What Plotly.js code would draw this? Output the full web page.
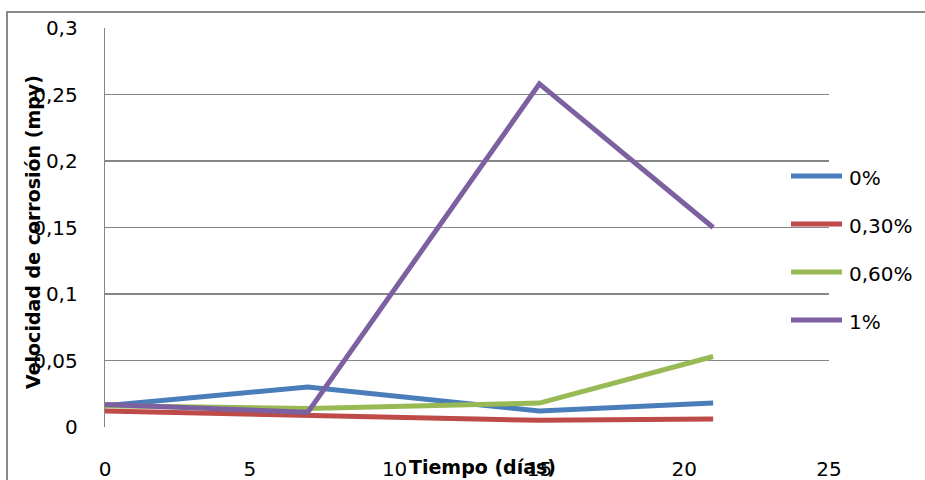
<!DOCTYPE html>
<html>
<head>
<meta charset="utf-8">
<script src="https://cdn.plot.ly/plotly-3.0.1.min.js"></script>
<style>
  html, body { margin: 0; padding: 0; background: #ffffff; overflow: hidden; }
  #wrap { position: relative; width: 925px; height: 480px; overflow: hidden; }
  #chart { position: absolute; left: 0; top: 0; width: 925px; height: 480px; }
  /* chart frame: only the top and left edges fall inside the page */
  #frame {
    position: absolute; left: 6px; top: 11px; width: 940px; height: 480px;
    border-top: 2px solid #8a8a8a; border-left: 2px solid #8a8a8a;
    pointer-events: none; box-sizing: border-box;
  }
</style>
</head>
<body>
<div id="wrap">
  <div id="chart"></div>
  <div id="frame"></div>
</div>
<script>
// Tiempo de exposición (días)
const dias = [0, 7, 15, 21];

// Velocidad de corrosión (mpy) por concentración de inhibidor
const serie0 = [0.016, 0.030, 0.012, 0.018];
const serie030 = [0.012, 0.009, 0.005, 0.006];
const serie060 = [0.016, 0.014, 0.018, 0.053];
const serie1 = [0.017, 0.011, 0.258, 0.150];

const nombresSeries = ['0%', '0,30%', '0,60%', '1%'];
const coloresSeries = ['#4A7EBB', '#BE4B48', '#98B954', '#7D60A0'];

const xTicks = [0, 5, 10, 15, 20, 25];
const xTickText = ['0', '5', '10', '15', '20', '25'];
const yTicks = [0, 0.05, 0.1, 0.15, 0.2, 0.25, 0.3];
const yTickText = ['0', '0,05', '0,1', '0,15', '0,2', '0,25', '0,3'];

const tituloX = 'Tiempo (días)';
const tituloY = 'Velocidad de corrosión (mpy)';

const valores = [serie0, serie030, serie060, serie1];
const traces = valores.map((v, i) => ({
  x: dias,
  y: v,
  type: 'scatter',
  mode: 'lines',
  name: nombresSeries[i],
  showlegend: false,
  line: { color: coloresSeries[i], width: 5 },
  hoverinfo: 'skip'
}));

const grid = '#868686';
const fuente = 'DejaVu Sans, sans-serif';

// plot area in pixels: left 105, right 829, top 28, bottom 427
const W = 724, H = 399, L = 105, T = 28;
const px = (x) => (x - L) / W;
const py = (y) => 1 - (y - T) / H;

// legend: a short line sample and a label per series, stacked on the right
const legendShapes = nombresSeries.map((n, i) => ({
  type: 'line', xref: 'paper', yref: 'paper',
  x0: px(791), x1: px(842), y0: py(176 + 48 * i), y1: py(176 + 48 * i),
  line: { color: coloresSeries[i], width: 5 }
}));
const legendLabels = nombresSeries.map((n, i) => ({
  text: n, xref: 'paper', yref: 'paper',
  x: px(847), y: py(178 + 48 * i),
  xanchor: 'left', yanchor: 'middle', showarrow: false,
  font: { family: fuente, size: 20, color: '#000000' }
}));

const layout = {
  width: 925,
  height: 480,
  margin: { l: 105, r: 96, t: 28, b: 53, autoexpand: false },
  paper_bgcolor: 'rgba(0,0,0,0)',
  plot_bgcolor: 'rgba(0,0,0,0)',
  showlegend: false,
  font: { family: fuente, size: 20, color: '#000000' },
  xaxis: {
    range: [0, 25],
    tickvals: xTicks,
    ticktext: xTickText,
    showgrid: false,
    zeroline: false,
    showline: false,
    ticks: 'outside',
    ticklen: 24,
    tickcolor: 'rgba(0,0,0,0)',
    tickfont: { family: fuente, size: 20, color: '#000000' }
  },
  yaxis: {
    range: [0, 0.3],
    tickvals: yTicks,
    ticktext: yTickText,
    showgrid: true,
    gridcolor: grid,
    gridwidth: 1.3,
    zeroline: false,
    showline: true,
    linecolor: grid,
    linewidth: 1.3,
    ticks: 'outside',
    ticklen: 22,
    tickcolor: 'rgba(0,0,0,0)',
    tickfont: { family: fuente, size: 20, color: '#000000' }
  },
  shapes: legendShapes,
  annotations: [
    {
      text: '<b>' + tituloX + '</b>', xref: 'paper', yref: 'paper',
      x: px(482), y: py(467),
      xanchor: 'center', yanchor: 'middle', showarrow: false,
      font: { family: fuente, size: 19, color: '#000000' }
    },
    {
      text: '<b>' + tituloY + '</b>', xref: 'paper', yref: 'paper',
      x: px(33), y: py(232),
      xanchor: 'center', yanchor: 'middle', showarrow: false, textangle: -90,
      font: { family: fuente, size: 19, color: '#000000' }
    }
  ].concat(legendLabels)
};

Plotly.newPlot('chart', traces, layout, { displayModeBar: false, staticPlot: true });
</script>
</body>
</html>
